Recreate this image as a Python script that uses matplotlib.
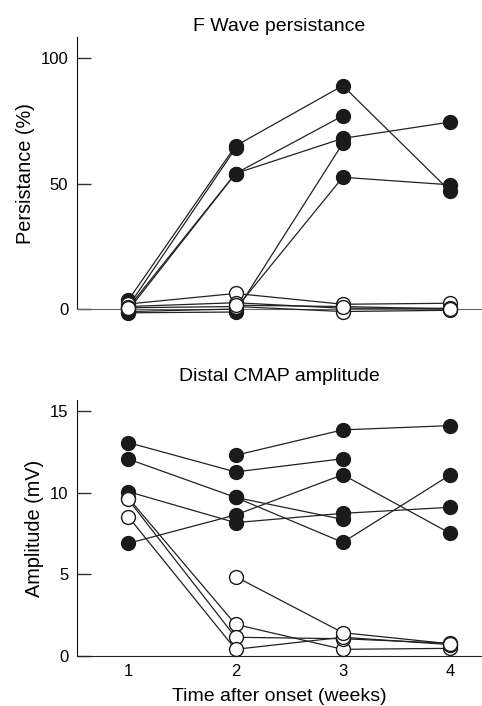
import numpy as np
import matplotlib
matplotlib.use('Agg')
import matplotlib.pyplot as plt

plt.rcParams['font.family'] = ['Liberation Sans', 'DejaVu Sans']

nan = np.nan
weeks = [1, 2, 3, 4]

# F wave persistance (%) per subject, filled = one group, open = other
pers_filled = [
    [3.5, 65.0, 89.0, 47.0],
    [1.0, 64.0, nan, nan],
    [0.5, 54.0, 77.0, nan],
    [-0.5, 54.0, 68.0, 74.5],
    [-1.5, -1.2, 66.0, nan],
    [-1.0, 0.0, 52.5, 49.5],
]
pers_open = [
    [2.0, 6.2, 1.9, 2.3],
    [1.0, 2.5, 0.3, 0.3],
    [0.5, 1.0, -1.0, -0.5],
    [nan, 1.5, 1.0, 0.0],
]

# distal CMAP amplitude (mV)
amp_filled = [
    [13.09, 11.29, 12.10, nan],
    [12.08, 9.73, 8.38, nan],
    [10.08, 8.18, 8.75, 9.12],
    [6.91, 8.65, 11.12, 7.53],
    [nan, 12.31, 13.87, 14.13],
    [nan, 9.73, 6.97, 11.10],
]
amp_open = [
    [9.70, 1.94, 0.41, 0.47],
    [9.60, 1.15, 1.06, 0.78],
    [8.55, 0.41, 1.15, 0.70],
    [nan, 4.87, 1.43, 0.75],
]


def draw(ax, filled, opened):
    for row in filled:
        ax.plot(weeks, row, '-o', color='#222222', lw=0.9, ms=10,
                mfc='#1a1a1a', mec='#1a1a1a', mew=1, clip_on=False, zorder=3)
    for row in opened:
        ax.plot(weeks, row, '-o', color='#222222', lw=0.9, ms=10,
                mfc='white', mec='#1a1a1a', mew=1, clip_on=False, zorder=4)


def style(ax):
    for s in ['top', 'right']:
        ax.spines[s].set_visible(False)
    ax.spines['left'].set_color('#111111')
    ax.spines['bottom'].set_color('#222222')
    ax.tick_params(axis='y', direction='in', length=10, width=1,
                   color='#333333', labelsize=12, pad=6)
    ax.tick_params(axis='x', length=0, labelsize=12, pad=6)
    ax.set_xlim(0.519, 4.298)


fig = plt.figure(figsize=(4.82, 7.06), dpi=100)

ax1 = fig.add_axes([0.159, 0.5623, 0.841, 0.3853])
draw(ax1, pers_filled, pers_open)
style(ax1)
ax1.set_ylim(0, 108.4)
ax1.set_yticks([0, 50, 100])
ax1.set_xticks([])
ax1.spines['bottom'].set_color('#666666')
ax1.set_ylabel('Persistance (%)', fontsize=14.3, labelpad=4)
ax1.set_title('F Wave persistance', fontsize=14, pad=4.5)

ax2 = fig.add_axes([0.159, 0.0708, 0.841, 0.3626])
draw(ax2, amp_filled, amp_open)
style(ax2)
ax2.set_ylim(0, 15.7)
ax2.set_yticks([0, 5, 10, 15])
ax2.set_xticks(weeks)
ax2.set_ylabel('Amplitude (mV)', fontsize=14.3, labelpad=4)
ax2.set_xlabel('Time after onset (weeks)', fontsize=14, labelpad=6)
ax2.set_title('Distal CMAP amplitude', fontsize=14, pad=13.5)

fig.savefig('out.png', dpi=100)
